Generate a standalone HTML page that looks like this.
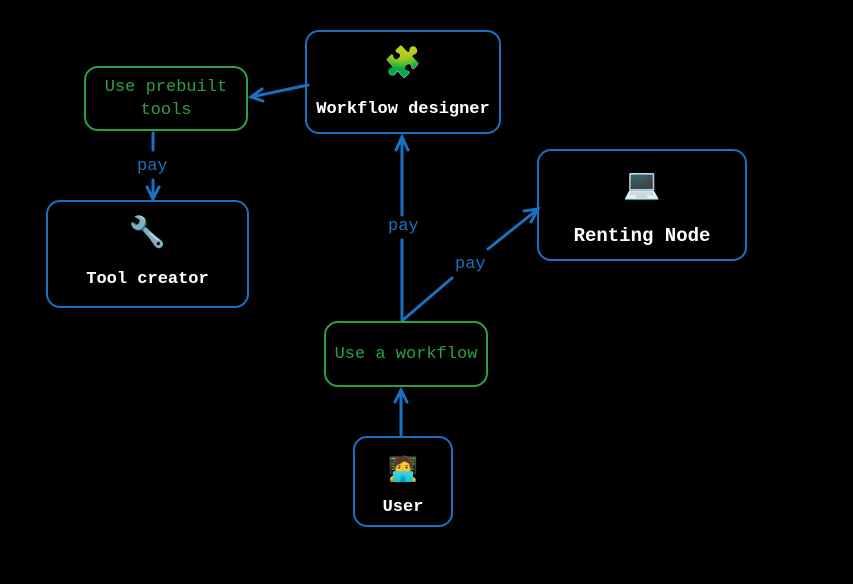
<!DOCTYPE html><html><head><style>
body{margin:0;width:853px;height:584px;background:#000;position:relative;overflow:hidden;font-family:"Liberation Mono","DejaVu Sans Mono",monospace}
.b{position:absolute;box-sizing:border-box;border:2px solid #1971c2;border-radius:14px;color:#fff;font-weight:bold;text-align:center;font-size:17px}
.g{border:2.5px solid #2f9e44;color:#2f9e44;font-weight:normal;font-size:17px;display:flex;align-items:center;justify-content:center;line-height:23px}
.e{font-size:30px;line-height:34px;font-family:"DejaVu Sans",sans-serif}
.t{position:absolute;left:0;right:0}
.p{position:absolute;color:#1971c2;font-size:17px}
</style></head><body>
<svg width="853" height="584" style="position:absolute;left:0;top:0" fill="none" stroke="#1971c2" stroke-width="3" stroke-linecap="round">
<path d="M308 85 L251 97 M262 89 L251 97 L263 101"/>
<path d="M153 133 L153 150 M153 180 L153 199 M147 187 L153 199 L159 187"/>
<path d="M402 320 L402 240 M402 215 L402 137 M396 150 L402 137 L408 150"/>
<path d="M403 320 L452 278 M488 249 L538 209 M524 211 L538 209 L531 222"/>
<path d="M401 435 L401 390 M395 402 L401 390 L407 402"/>
</svg>
<div class="b" style="left:305px;top:30px;width:196px;height:104px"><div class="t e" style="top:14px">🧩</div><div class="t" style="top:68px">Workflow designer</div></div>
<div class="b g" style="left:84px;top:66px;width:164px;height:65px">Use prebuilt<br>tools</div>
<div class="b" style="left:46px;top:200px;width:203px;height:108px"><div class="t e" style="top:14px">🔧</div><div class="t" style="top:68px">Tool creator</div></div>
<div class="b" style="left:537px;top:149px;width:210px;height:112px;font-size:19px"><div class="t e" style="top:17px">💻</div><div class="t" style="top:74px">Renting Node</div></div>
<div class="b g" style="left:324px;top:321px;width:164px;height:66px">Use a workflow</div>
<div class="b" style="left:353px;top:436px;width:100px;height:91px"><div class="t e" style="top:14px;font-size:24px">🧑‍💻</div><div class="t" style="top:60px">User</div></div>
<div class="p" style="left:137px;top:157px">pay</div>
<div class="p" style="left:388px;top:217px">pay</div>
<div class="p" style="left:455px;top:255px">pay</div>
</body></html>
